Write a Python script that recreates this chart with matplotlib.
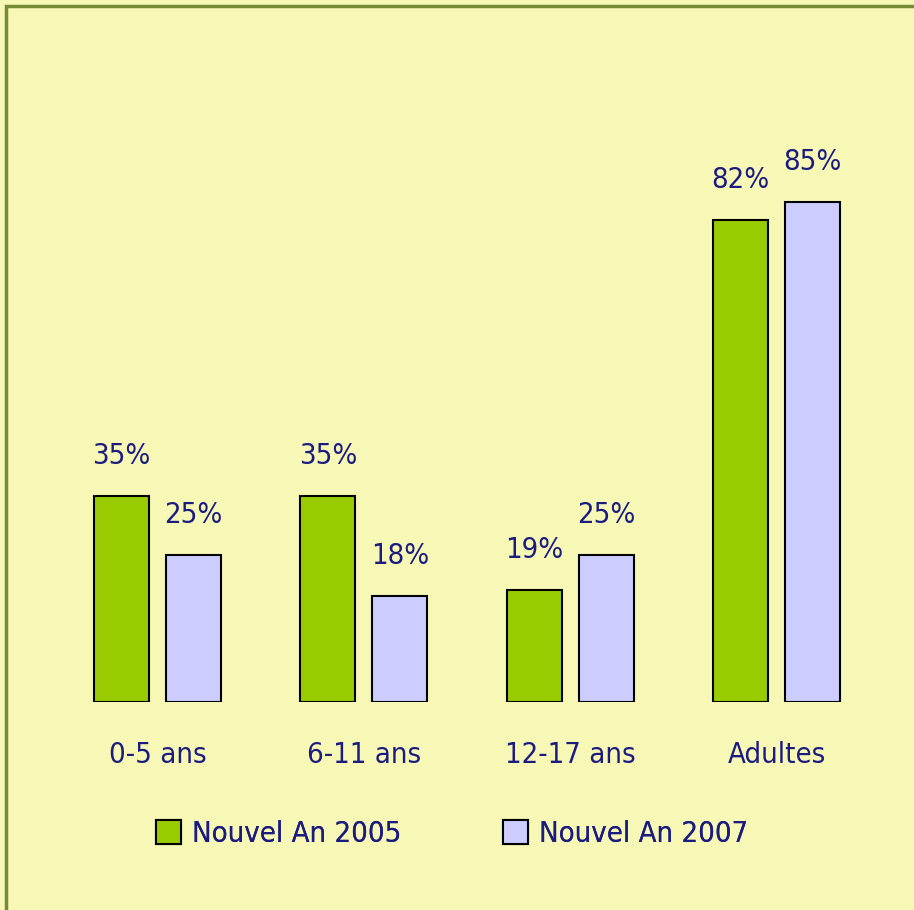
import numpy as np
import matplotlib.pyplot as plt
from matplotlib.patches import Rectangle, Patch

categories = ['0-5 ans', '6-11 ans', '12-17 ans', 'Adultes']
series_names = ['Nouvel An 2005', 'Nouvel An 2007']
values_2005 = [35, 35, 19, 82]
values_2007 = [25, 18, 25, 85]

BG = '#f7f8b6'
GREEN = '#99cc00'
LAVENDER = '#ccccff'
NAVY = '#1b1b80'

plt.rcParams['font.family'] = ['DejaVu Sans']
plt.rcParams['font.stretch'] = 'condensed'

fig = plt.figure(figsize=(9.14, 9.10), dpi=100, facecolor=BG)

# olive frame, partly running off the right and bottom edges
fig.patches.append(Rectangle((6 / 914, -0.05), 1.2, 1 - 6 / 910 + 0.05,
                             transform=fig.transFigure, fill=False,
                             edgecolor='#778a35', linewidth=2.5))

ax = fig.add_axes([0.05944, 0.2286, 0.903, 0.6462])
ax.set_facecolor('none')
ax.set_xlim(-0.5, 3.5)
ax.set_ylim(0, 100)
ax.axis('off')

x = np.arange(len(categories))
w = 55 / 206.33
off = 36 / 206.33
b1 = ax.bar(x - off, values_2005, w, color=GREEN, edgecolor='black', linewidth=1.5)
b2 = ax.bar(x + off, values_2007, w, color=LAVENDER, edgecolor='black', linewidth=1.5)

for bars, vals in ((b1, values_2005), (b2, values_2007)):
    for r, v in zip(bars, vals):
        ax.annotate(f'{v}%', (r.get_x() + r.get_width() / 2, v),
                    xytext=(0, 29), textcoords='offset points',
                    ha='center', va='center', fontsize=21, color=NAVY)

for xi, c in zip(x, categories):
    ax.text(xi, -9.0, c, ha='center', va='center', fontsize=21, color=NAVY)

# one legend per series so each entry sits at its own spot
for xpos, name, col in ((156, series_names[0], GREEN), (503, series_names[1], LAVENDER)):
    leg = fig.legend([Patch(facecolor=col, edgecolor='black', linewidth=1.5)], [name],
                     loc='center left', bbox_to_anchor=(xpos / 914, 1 - 834 / 910),
                     frameon=False, fontsize=21, labelcolor=NAVY, borderpad=0,
                     borderaxespad=0, handlelength=0.85, handleheight=0.85,
                     handletextpad=0.4)
    fig.add_artist(leg)

fig.savefig('out.png', dpi=100, facecolor=BG)
